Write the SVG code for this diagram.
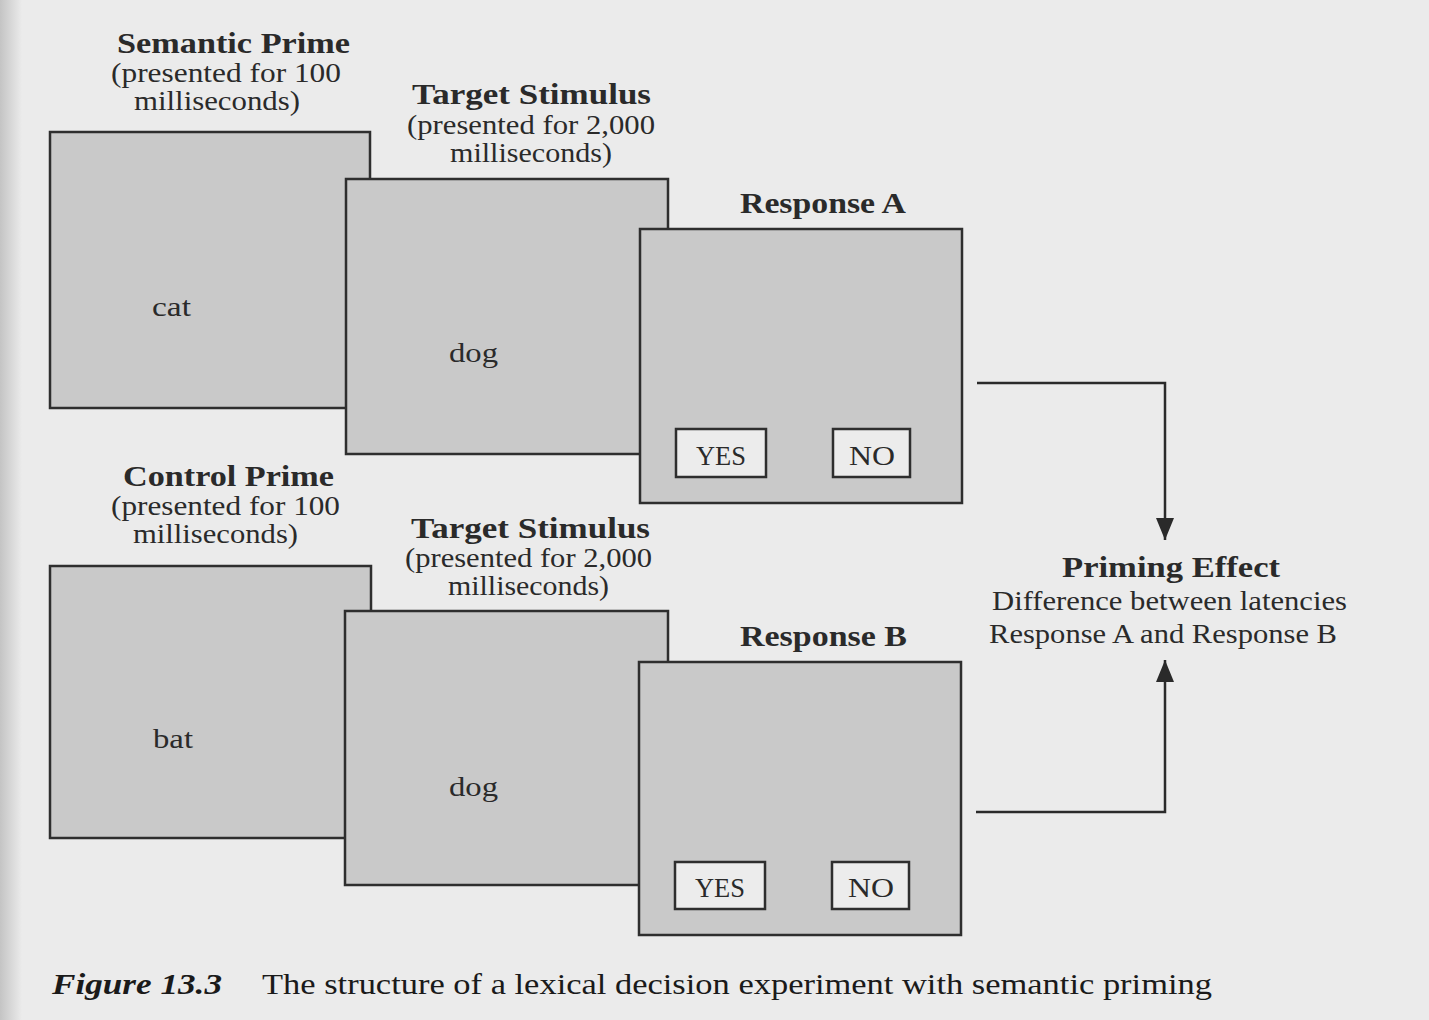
<svg xmlns="http://www.w3.org/2000/svg" width="1429" height="1020" viewBox="0 0 1429 1020">
<style>
  .bg { fill: #ebebeb; }
  .screen { fill: #c9c9c9; stroke: #2e2e2e; stroke-width: 2.5; }
  .key { fill: #ececec; stroke: #2e2e2e; stroke-width: 2.5; }
  .h { font-family: "Liberation Serif", "DejaVu Serif", serif; font-weight: bold; font-size: 29px; fill: #2a2a2a; text-anchor: start; }
  .t { font-family: "Liberation Serif", "DejaVu Serif", serif; font-size: 28px; fill: #2a2a2a; text-anchor: start; }
  .cap { font-family: "Liberation Serif", "DejaVu Serif", serif; font-size: 30px; fill: #1a1a1a; }
  .capb { font-family: "Liberation Serif", "DejaVu Serif", serif; font-size: 30px; font-weight: bold; font-style: italic; fill: #1a1a1a; }
  .conn { fill: none; stroke: #2a2a2a; stroke-width: 2.5; }
</style>
<defs>
  <linearGradient id="edge" x1="0" y1="0" x2="1" y2="0">
    <stop offset="0" stop-color="#c4c4c4"/>
    <stop offset="1" stop-color="#ebebeb"/>
  </linearGradient>
  <marker id="ahb" markerWidth="22" markerHeight="18" refX="22" refY="9" orient="auto" markerUnits="userSpaceOnUse" viewBox="0 0 22 18">
    <path d="M0,0 L22,9 L0,18 Z" fill="#2a2a2a"/>
  </marker>
</defs>
<rect class="bg" x="0" y="0" width="1429" height="1020"/>
<rect x="0" y="0" width="22" height="1020" fill="url(#edge)"/>

<!-- Top row -->
<g id="semantic-prime-label">
  <text class="h" x="117" y="53" textLength="233" lengthAdjust="spacingAndGlyphs">Semantic Prime</text>
  <text class="t" x="111" y="82" textLength="230" lengthAdjust="spacingAndGlyphs">(presented for 100</text>
  <text class="t" x="134" y="110" textLength="166" lengthAdjust="spacingAndGlyphs">milliseconds)</text>
</g>
<g id="semantic-prime">
  <rect class="screen" x="50" y="132" width="320" height="276"/>
  <text class="t" x="152" y="316" textLength="39" lengthAdjust="spacingAndGlyphs">cat</text>
</g>
<g id="target-a-label">
  <text class="h" x="412" y="104" textLength="239" lengthAdjust="spacingAndGlyphs">Target Stimulus</text>
  <text class="t" x="407" y="134" textLength="248" lengthAdjust="spacingAndGlyphs">(presented for 2,000</text>
  <text class="t" x="450" y="162" textLength="162" lengthAdjust="spacingAndGlyphs">milliseconds)</text>
</g>
<g id="target-a">
  <rect class="screen" x="346" y="179" width="322" height="275"/>
  <text class="t" x="449" y="362" textLength="49" lengthAdjust="spacingAndGlyphs">dog</text>
</g>
<g id="response-a">
  <text class="h" x="740" y="213" textLength="166" lengthAdjust="spacingAndGlyphs">Response A</text>
  <rect class="screen" x="640" y="229" width="322" height="274"/>
  <rect class="key" x="676" y="429" width="90" height="48"/>
  <text class="t" x="696" y="465" textLength="50" lengthAdjust="spacingAndGlyphs">YES</text>
  <rect class="key" x="833" y="429" width="77" height="48"/>
  <text class="t" x="849" y="465" textLength="46" lengthAdjust="spacingAndGlyphs">NO</text>
</g>

<!-- Bottom row -->
<g id="control-prime-label">
  <text class="h" x="123" y="486" textLength="211" lengthAdjust="spacingAndGlyphs">Control Prime</text>
  <text class="t" x="111" y="515" textLength="229" lengthAdjust="spacingAndGlyphs">(presented for 100</text>
  <text class="t" x="133" y="543" textLength="165" lengthAdjust="spacingAndGlyphs">milliseconds)</text>
</g>
<g id="control-prime">
  <rect class="screen" x="50" y="566" width="321" height="272"/>
  <text class="t" x="153" y="748" textLength="40" lengthAdjust="spacingAndGlyphs">bat</text>
</g>
<g id="target-b-label">
  <text class="h" x="411" y="538" textLength="239" lengthAdjust="spacingAndGlyphs">Target Stimulus</text>
  <text class="t" x="405" y="567" textLength="247" lengthAdjust="spacingAndGlyphs">(presented for 2,000</text>
  <text class="t" x="448" y="595" textLength="161" lengthAdjust="spacingAndGlyphs">milliseconds)</text>
</g>
<g id="target-b">
  <rect class="screen" x="345" y="611" width="323" height="274"/>
  <text class="t" x="449" y="796" textLength="49" lengthAdjust="spacingAndGlyphs">dog</text>
</g>
<g id="response-b">
  <text class="h" x="740" y="646" textLength="167" lengthAdjust="spacingAndGlyphs">Response B</text>
  <rect class="screen" x="639" y="662" width="322" height="273"/>
  <rect class="key" x="675" y="862" width="90" height="47"/>
  <text class="t" x="695" y="897" textLength="50" lengthAdjust="spacingAndGlyphs">YES</text>
  <rect class="key" x="832" y="862" width="77" height="47"/>
  <text class="t" x="848" y="897" textLength="46" lengthAdjust="spacingAndGlyphs">NO</text>
</g>

<!-- Priming effect -->
<g id="priming-effect">
  <text class="h" x="1062" y="577" textLength="218" lengthAdjust="spacingAndGlyphs">Priming Effect</text>
  <text class="t" x="992" y="610" textLength="355" lengthAdjust="spacingAndGlyphs">Difference between latencies</text>
  <text class="t" x="989" y="643" textLength="348" lengthAdjust="spacingAndGlyphs">Response A and Response B</text>
</g>

<g id="connectors">
  <path class="conn" d="M977,383 H1165 V540" marker-end="url(#ahb)"/>
  <path class="conn" d="M976,812 H1165 V660" marker-end="url(#ahb)"/>
</g>

<g id="caption">
  <text class="capb" x="52" y="994" textLength="170" lengthAdjust="spacingAndGlyphs">Figure 13.3</text>
  <text class="cap" x="262" y="994" textLength="950" lengthAdjust="spacingAndGlyphs">The structure of a lexical decision experiment with semantic priming</text>
</g>
</svg>
